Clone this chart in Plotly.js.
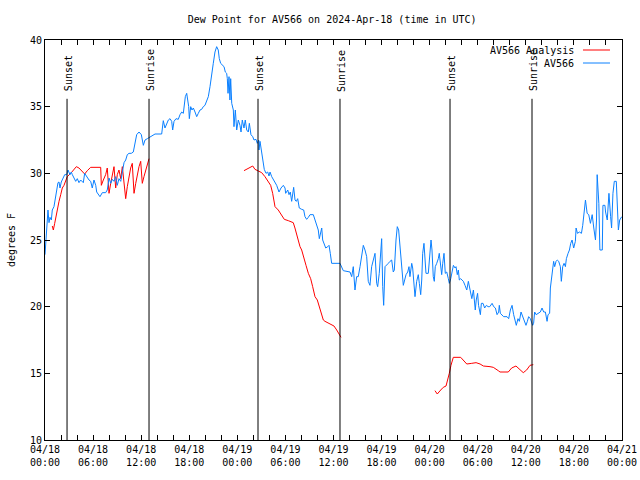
<!DOCTYPE html>
<html>
<head>
<meta charset="utf-8">
<script src="https://cdn.plot.ly/plotly-3.0.1.min.js"></script>
<style>html,body{margin:0;padding:0;background:#fff;}#chart{width:640px;height:480px;}</style>
</head>
<body>
<div id="chart"></div>
<script>
// Hours since 2024-04-18 00:00 UTC
const blueHours = [0,0.37,0.5,0.62,0.79,0.91,1.12,1.34,1.46,1.62,1.75,1.87,2.03,2.28,2.46,2.71,2.87,3.12,3.28,3.41,3.62,3.83,4.03,4.24,4.45,4.78,4.95,5.2,5.49,5.7,5.9,6.11,6.33,6.45,6.65,6.86,7.15,7.57,7.77,7.99,8.2,8.4,8.61,8.82,9.02,9.23,9.45,9.65,9.86,10.07,10.27,10.48,10.77,11.02,11.19,11.44,11.73,12.02,12.27,12.48,12.77,13.19,13.73,14.56,14.69,14.76,14.97,15.18,15.39,15.6,15.81,15.93,16.1,16.35,16.63,16.85,17.06,17.26,17.38,17.51,17.68,17.81,17.93,18.01,18.18,18.34,18.51,18.72,18.93,19.13,19.34,19.55,19.75,19.96,20.18,20.38,20.59,20.8,21.0,21.21,21.42,21.62,21.75,21.92,22.17,22.34,22.5,22.67,22.75,22.84,22.96,23.08,23.17,23.3,23.5,23.58,23.75,23.92,24.12,24.33,24.46,24.62,24.83,24.99,25.17,25.37,25.5,25.7,25.92,26.08,26.33,26.49,26.67,26.7,26.83,27.04,27.16,27.36,27.58,27.79,27.95,28.08,28.29,28.49,28.7,28.91,29.2,29.45,29.74,29.95,30.03,30.29,30.45,30.61,30.78,30.91,31.03,31.2,31.36,31.53,31.73,32.03,32.28,32.44,32.65,32.86,33.07,33.48,33.69,33.9,34.1,34.23,34.4,34.53,34.65,34.85,35.03,35.28,35.44,35.6,35.77,36.81,37.02,37.22,38.06,38.27,38.47,38.68,38.89,39.09,39.31,39.52,39.72,39.93,40.14,40.34,40.55,40.76,40.96,41.18,41.39,41.51,41.71,41.89,42.01,42.14,42.26,42.43,42.64,42.84,43.05,43.26,43.46,43.59,43.8,43.96,44.13,44.3,44.51,44.71,44.88,45.05,45.26,45.42,45.54,45.76,45.88,46.04,46.17,46.38,46.58,46.71,46.88,47.01,47.13,47.29,47.42,47.54,47.83,48.04,48.17,48.29,48.45,48.58,48.7,48.88,49.08,49.2,49.38,49.5,49.63,49.79,49.95,50.13,50.33,50.45,50.63,50.79,50.96,51.17,51.29,51.45,51.58,51.7,51.87,52.04,52.2,52.41,52.63,52.83,53.05,53.26,53.46,53.69,53.81,53.98,54.1,54.33,54.45,54.66,54.86,55.08,55.29,55.5,55.79,55.99,56.2,56.41,56.61,56.69,56.82,57.23,57.65,57.86,58.07,58.28,58.48,58.69,58.81,59.02,59.19,59.4,59.6,59.85,60.02,60.19,60.35,60.56,60.69,60.85,60.97,61.1,61.28,61.53,61.81,62.02,62.23,62.44,62.65,62.77,62.97,63.06,63.27,63.47,63.6,63.77,63.93,64.1,64.31,64.43,64.6,64.77,64.94,65.06,65.27,65.44,65.6,65.77,65.97,66.18,66.27,66.44,66.69,66.94,67.1,67.23,67.44,67.65,67.85,68.06,68.28,68.48,68.69,68.82,68.9,69.11,69.24,69.54,69.62,69.87,69.95,70.16,70.37,70.58,70.7,70.87,71.04,71.29,71.42,71.55,71.71,71.85,71.97];
const blueDew = [23.9,27.25,26.3,26.7,26.5,27.25,27.5,28.4,29.0,29.3,29.35,28.9,29.35,29.65,29.9,29.9,30.25,29.9,30.1,29.9,29.6,29.4,29.6,29.3,29.5,29.3,30.0,29.75,29.5,29.4,28.9,29.5,29.1,28.6,28.4,28.25,28.55,28.55,28.75,29.65,29.25,29.55,29.4,29.75,29.1,29.6,29.4,30.0,30.8,31.0,31.4,31.5,31.5,31.6,32.25,32.9,33.1,32.9,32.1,32.5,32.6,32.75,32.95,32.95,33.5,33.95,33.4,33.75,34.0,34.1,33.9,33.25,33.9,34.1,34.05,34.4,34.6,34.5,35.0,35.75,36.0,35.4,35.0,34.1,35.0,34.75,34.9,34.6,34.25,34.5,34.75,34.8,35.0,35.1,35.4,35.75,36.5,37.25,38.25,39.1,39.5,39.25,38.6,38.25,38.1,38.0,37.6,37.5,37.1,36.0,37.25,35.5,37.1,35.25,34.75,33.5,34.75,33.25,34.0,33.6,33.1,34.0,33.4,34.0,33.25,33.1,33.75,32.9,32.75,32.5,32.55,32.25,32.5,31.75,32.4,31.5,30.75,30.3,30.0,30.1,29.8,30.1,29.75,29.55,29.25,29.1,28.6,28.9,29.1,28.9,28.5,28.75,28.4,28.6,27.9,28.5,28.95,28.0,27.9,28.1,27.4,27.3,27.25,26.75,26.55,26.7,26.9,26.9,26.5,26.0,25.75,25.1,25.6,25.9,25.0,24.75,24.4,24.5,24.6,24.0,23.25,23.25,22.9,22.7,22.6,22.25,23.0,21.25,22.25,22.25,23.0,23.75,24.6,24.25,23.75,21.9,21.6,23.0,23.6,24.0,21.75,21.5,22.5,24.1,25.1,21.5,20.1,23.0,23.1,23.25,23.4,23.5,22.6,22.75,25.0,26.0,25.75,24.5,23.25,21.6,22.0,22.4,22.6,23.0,22.25,23.25,22.9,21.4,20.75,21.9,22.4,21.75,20.9,22.0,24.0,24.75,23.5,22.5,22.5,23.75,25.0,24.25,22.25,21.9,23.0,23.25,23.6,24.0,22.75,22.4,23.25,24.0,22.5,22.6,22.1,21.75,22.1,22.75,23.1,22.9,23.0,22.4,22.75,22.0,22.1,22.0,21.9,21.6,21.25,21.9,21.1,20.6,21.25,19.75,20.5,21.0,20.1,19.4,20.25,20.25,19.9,20.1,20.0,20.0,20.25,20.0,19.9,19.4,19.6,20.1,19.5,19.25,19.25,19.1,19.75,20.1,19.4,18.9,18.6,19.1,18.9,19.6,19.25,18.9,18.6,18.9,19.25,19.1,18.9,18.6,18.75,19.6,19.4,19.5,19.6,19.9,19.6,19.6,18.9,19.4,19.5,21.4,22.4,23.4,23.0,23.4,23.5,23.4,23.0,21.9,23.0,23.25,23.0,23.6,24.0,24.25,24.75,25.0,24.4,24.9,25.9,25.5,25.6,25.5,26.1,27.0,28.0,27.0,26.9,26.25,26.9,25.9,25.0,26.5,29.9,27.75,24.25,24.25,27.6,27.6,27.1,26.5,28.5,26.75,25.9,28.5,29.4,29.4,27.75,25.75,26.5,26.6,26.75];

const analysisHours1 = [0.91,1.04,1.21,1.37,1.53,1.75,1.96,2.16,2.37,2.78,3.21,3.62,3.91,4.24,4.65,4.95,5.28,5.7,6.95,7.03,7.28,7.57,7.77,7.99,8.2,8.4,8.61,8.82,9.02,9.23,9.45,9.65,9.86,10.07,10.27,10.48,10.69,10.89,11.11,11.32,11.52,11.73,11.94,12.14,12.35,12.57,12.77,12.98];
const analysisDew1 = [26.05,25.75,26.25,26.75,27.4,27.9,28.4,28.9,29.1,29.75,30.0,30.25,30.5,30.4,30.1,29.95,30.2,30.45,30.45,29.1,29.5,29.9,30.4,28.5,29.25,29.9,30.5,28.9,29.9,30.25,29.6,30.5,29.1,28.1,29.0,29.9,30.4,30.75,28.5,29.25,30.0,30.5,30.9,29.25,29.75,30.25,30.8,31.1];
const analysisHours2 = [24.83,25.37,25.92,26.2,26.62,27.04,27.45,27.86,28.16,28.41,28.7,29.11,29.54,29.86,30.36,30.98,31.19,31.41,31.82,32.03,32.23,32.57,32.86,33.15,33.4,33.69,33.98,34.23,34.53,34.73,34.94,35.56,36.06,36.4,36.72,36.94];
const analysisDew2 = [30.2,30.4,30.55,30.3,30.2,30.05,29.75,29.4,29.1,28.5,27.5,27.25,26.9,26.55,26.45,26.3,25.9,25.4,24.5,24.25,23.75,23.1,22.5,22.1,21.5,20.75,20.5,20.0,19.5,19.0,18.9,18.7,18.55,18.25,17.9,17.7];
const analysisHours3 = [48.66,48.95,49.38,49.7,50.04,50.25,50.45,50.66,50.95,51.87,52.2,52.63,53.25,53.79,54.29,54.7,55.53,55.94,56.56,56.78,57.81,58.23,58.77,59.27,59.68,60.1,60.52,60.93];
const analysisDew3 = [13.7,13.45,13.75,13.95,14.05,14.5,15.0,15.6,16.2,16.2,16.0,15.7,15.75,15.8,15.7,15.55,15.5,15.45,15.2,15.1,15.1,15.4,15.55,15.3,15.05,15.25,15.6,15.65];

const sunEvents = ["Sunset","Sunrise","Sunset","Sunrise","Sunset","Sunrise"];
const sunHours = [2.75,12.98,26.58,36.81,50.54,60.77];

const dayLabels = ["04/18","04/18","04/18","04/18","04/19","04/19","04/19","04/19","04/20","04/20","04/20","04/20","04/21"];
const timeLabels = ["00:00","06:00","12:00","18:00","00:00","06:00","12:00","18:00","00:00","06:00","12:00","18:00","00:00"];
const yTicks = [10,15,20,25,30,35,40];

const seriesNames = ["AV566 Analysis","AV566"];
const seriesColors = ["#ff0000","#0a80ff"];

const FONT = "DejaVu Sans Mono, Liberation Mono, monospace";

// x ticks every 2 hours, labels every 6 hours
const xTickVals = [], xTickText = [];
for (let h = 0; h <= 72; h += 2) {
  xTickVals.push(h);
  const k = h / 6;
  xTickText.push(Number.isInteger(k) ? dayLabels[k] + "<br>" + timeLabels[k] : "");
}

const redX = analysisHours1.concat([null], analysisHours2, [null], analysisHours3);
const redY = analysisDew1.concat([null], analysisDew2, [null], analysisDew3);

const traces = [
  {x: redX, y: redY, type: "scatter", mode: "lines", name: seriesNames[0],
   line: {color: seriesColors[0], width: 1}, connectgaps: false, showlegend: false, hoverinfo: "skip"},
  {x: blueHours, y: blueDew, type: "scatter", mode: "lines", name: seriesNames[1],
   line: {color: seriesColors[1], width: 1}, showlegend: false, hoverinfo: "skip"}
];

const shapes = [];
const annotations = [];
sunHours.forEach((h, i) => {
  shapes.push({type: "line", xref: "x", yref: "paper", x0: h, x1: h, y0: 0, y1: 0.853,
    line: {color: "#000", width: 1}});
  annotations.push({x: h, xref: "x", y: 0.866, yref: "paper", text: sunEvents[i],
    textangle: -90, showarrow: false, xanchor: "center", yanchor: "bottom", xshift: 1.5,
    font: {family: FONT, size: 10, color: "#000"}});
});
// legend (gnuplot style: text right, sample line after)
const legendY = [0.975, 0.9425];
seriesNames.forEach((n, i) => {
  annotations.push({x: 0.9205, xref: "paper", y: legendY[i], yref: "paper", text: n,
    showarrow: false, xanchor: "right", yanchor: "middle",
    font: {family: FONT, size: 10, color: "#000"}});
  shapes.push({type: "line", xref: "paper", yref: "paper", x0: 0.9324, x1: 0.9792,
    y0: legendY[i], y1: legendY[i], line: {color: seriesColors[i], width: 1}});
});

const layout = {
  width: 640, height: 480,
  margin: {l: 45, r: 18, t: 40, b: 40, pad: 0},
  paper_bgcolor: "#fff", plot_bgcolor: "#fff",
  font: {family: FONT, size: 10, color: "#000"},
  title: {text: "Dew Point for AV566 on 2024-Apr-18 (time in UTC)", x: 0.519, xanchor: "center",
    y: 0.96, yanchor: "middle", font: {family: FONT, size: 10, color: "#000"}},
  xaxis: {range: [0, 72], tickmode: "array", tickvals: xTickVals, ticktext: xTickText,
    ticks: "inside", ticklen: 5, tickcolor: "#000", mirror: "ticks", showline: true,
    linecolor: "#000", linewidth: 1, showgrid: false, zeroline: false,
    tickfont: {family: FONT, size: 10, color: "#000"}, fixedrange: true},
  yaxis: {range: [10, 40], tickmode: "array", tickvals: yTicks, ticktext: yTicks.map(String),
    ticks: "inside", ticklen: 5, tickcolor: "#000", mirror: "ticks", showline: true,
    linecolor: "#000", linewidth: 1, showgrid: false, zeroline: false,
    tickfont: {family: FONT, size: 10, color: "#000"},
    title: {text: "degrees F", standoff: 12, font: {family: FONT, size: 10, color: "#000"}}, fixedrange: true},
  shapes: shapes,
  annotations: annotations,
  showlegend: false
};

Plotly.newPlot("chart", traces, layout, {staticPlot: true, displayModeBar: false});
</script>
</body>
</html>
